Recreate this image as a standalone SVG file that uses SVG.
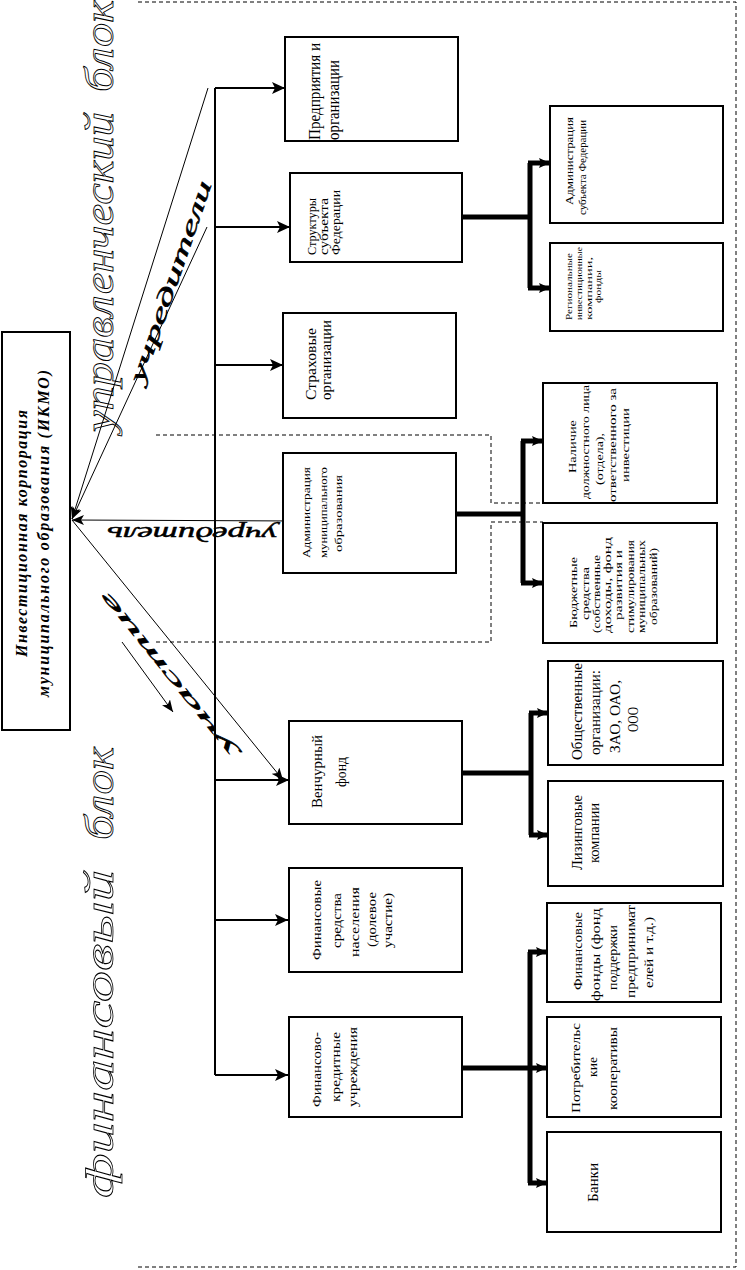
<svg xmlns="http://www.w3.org/2000/svg" width="745" height="1270" viewBox="0 0 745 1270">
<defs>
<style>
.bx{fill:#fff;stroke:#000;stroke-width:2}
.t{font-family:"Liberation Serif","Times New Roman",serif;fill:#000}
.ik{font-family:"Liberation Serif","Times New Roman",serif;font-weight:bold;font-style:italic;font-size:16px;fill:#000}
.big{font-family:"Liberation Serif","Times New Roman",serif;font-style:italic;font-size:40px;fill:#fff;stroke:#000;stroke-width:0.8}
.scr{font-family:"Liberation Serif","Times New Roman",serif;font-style:italic;fill:#000;stroke:#000;stroke-width:0.5}
.bus{fill:none;stroke:#000;stroke-width:2}
.thk{fill:none;stroke:#000;stroke-width:5}
.thin{fill:none;stroke:#000;stroke-width:1}
.dash{fill:none;stroke:#000;stroke-width:1;stroke-dasharray:4,3}
</style>
<marker id="a1" markerWidth="13" markerHeight="12" refX="13" refY="6" orient="auto" markerUnits="userSpaceOnUse"><path d="M0,0 L13,6 L0,12 L3,6 z" fill="#000"/></marker>
<marker id="a2" markerWidth="11" markerHeight="10" refX="11" refY="5" orient="auto" markerUnits="userSpaceOnUse"><path d="M0,0 L11,5 L0,10 L2,5 z" fill="#000"/></marker>
<marker id="a3" markerWidth="12" markerHeight="10" refX="12" refY="5" orient="auto" markerUnits="userSpaceOnUse"><path d="M0,0 L12,5 L0,10 L3,5 z" fill="#000"/></marker>
</defs>
<rect width="745" height="1270" fill="#fff"/>

<g id="frame">
<path class="dash" d="M138,2 H736 V1267 H138"/>
<path class="dash" d="M156,435 H491 V503 H543"/>
<path class="dash" d="M156,642 H491 V522 H543"/>
</g>

<g id="labels">
<text class="big" transform="translate(113,1198) rotate(-90)" textLength="328" lengthAdjust="spacingAndGlyphs">финансовый</text>
<text class="big" transform="translate(113,840) rotate(-90)" textLength="93" lengthAdjust="spacingAndGlyphs">блок</text>
<text class="big" transform="translate(113,432) rotate(-90)" textLength="320" lengthAdjust="spacingAndGlyphs">управленческий</text>
<text class="big" transform="translate(113,92) rotate(-90)" textLength="92" lengthAdjust="spacingAndGlyphs">блок</text>
<text class="scr" font-size="22" transform="translate(143,384) rotate(-71)" textLength="212" lengthAdjust="spacingAndGlyphs">учредители</text>
<text class="scr" font-size="22" transform="translate(277,527) rotate(180)" textLength="170" lengthAdjust="spacingAndGlyphs">учредитель</text>
<text class="scr" font-size="17" transform="translate(236,750) rotate(-129)" textLength="205" lengthAdjust="spacingAndGlyphs">участие</text>
</g>

<g id="connectors">
<path class="bus" d="M215,88 V1075"/>
<path class="bus" d="M215,88 H285" marker-end="url(#a1)"/>
<path class="bus" d="M215,227 H290" marker-end="url(#a1)"/>
<path class="bus" d="M215,365 H283" marker-end="url(#a1)"/>
<path class="bus" d="M215,780 H289" marker-end="url(#a1)"/>
<path class="bus" d="M215,920 H288" marker-end="url(#a1)"/>
<path class="bus" d="M215,1075 H288" marker-end="url(#a1)"/>

<path class="thk" d="M462,217 H530 M530,163 V288"/>
<path class="thk" d="M528,163 H550" marker-end="url(#a2)"/>
<path class="thk" d="M528,288 H550" marker-end="url(#a2)"/>

<path class="thk" d="M456,514 H523 M523,441 V583"/>
<path class="thk" d="M521,441 H543" marker-end="url(#a2)"/>
<path class="thk" d="M521,583 H543" marker-end="url(#a2)"/>

<path class="thk" d="M462,773 H531 M531,713 V835"/>
<path class="thk" d="M529,713 H548" marker-end="url(#a2)"/>
<path class="thk" d="M529,835 H548" marker-end="url(#a2)"/>

<path class="thk" d="M462,1068 H530 M530,952 V1183"/>
<path class="thk" d="M528,952 H547" marker-end="url(#a2)"/>
<path class="thk" d="M528,1068 H547" marker-end="url(#a2)"/>
<path class="thk" d="M528,1183 H547" marker-end="url(#a2)"/>

<path class="thin" d="M208,88 L72,519" marker-end="url(#a3)"/>
<path class="thin" d="M207,227 L72,519" marker-end="url(#a3)"/>
<path class="thin" d="M297,521 L72,520" marker-end="url(#a3)"/>
<path class="thin" d="M72,520 L283,780" marker-end="url(#a3)"/>
<path class="thin" d="M122,642 L173,712" marker-end="url(#a3)"/>
</g>

<g id="ikmo">
<rect class="bx" x="2" y="332" width="68" height="398"/>
<text class="ik" transform="translate(27,657) rotate(-90)" textLength="247" lengthAdjust="spacing">Инвестиционная корпорация</text>
<text class="ik" transform="translate(49,697) rotate(-90)" textLength="327" lengthAdjust="spacing">муниципального образования (ИКМО)</text>
</g>

<g id="n-predpriyatiya">
<rect class="bx" x="285" y="37" width="173" height="104"/>
<text class="t" font-size="17" transform="translate(320,140) rotate(-90)" textLength="97" lengthAdjust="spacingAndGlyphs">Предприятия и</text>
<text class="t" font-size="17" transform="translate(339,140) rotate(-90)" textLength="80" lengthAdjust="spacingAndGlyphs">организации</text>
</g>

<g id="n-struktury">
<rect class="bx" x="290" y="173" width="172" height="89"/>
<text class="t" font-size="12" transform="translate(316,255) rotate(-90)" textLength="57" lengthAdjust="spacingAndGlyphs">Структуры</text>
<text class="t" font-size="12" transform="translate(328,255) rotate(-90)" textLength="57" lengthAdjust="spacingAndGlyphs">субъекта</text>
<text class="t" font-size="12" transform="translate(340,255) rotate(-90)" textLength="65" lengthAdjust="spacingAndGlyphs">Федерации</text>
</g>

<g id="n-strahovye">
<rect class="bx" x="283" y="313" width="173" height="105"/>
<text class="t" font-size="14" transform="translate(316,400) rotate(-90)" textLength="72" lengthAdjust="spacingAndGlyphs">Страховые</text>
<text class="t" font-size="14" transform="translate(331,400) rotate(-90)" textLength="80" lengthAdjust="spacingAndGlyphs">организации</text>
</g>

<g id="n-admin-mo">
<rect class="bx" x="283" y="453" width="173" height="120"/>
<text class="t" font-size="11" transform="translate(310,558) rotate(-90)" textLength="91" lengthAdjust="spacingAndGlyphs">Администрация</text>
<text class="t" font-size="11" transform="translate(327,558) rotate(-90)" textLength="91" lengthAdjust="spacingAndGlyphs">муниципального</text>
<text class="t" font-size="11" transform="translate(342,552) rotate(-90)" textLength="77" lengthAdjust="spacingAndGlyphs">образования</text>
</g>

<g id="n-venture">
<rect class="bx" x="289" y="721" width="173" height="103"/>
<text class="t" font-size="15" transform="translate(322,808) rotate(-90)" textLength="73" lengthAdjust="spacingAndGlyphs">Венчурный</text>
<text class="t" font-size="15" transform="translate(346,787) rotate(-90)" textLength="30" lengthAdjust="spacingAndGlyphs">фонд</text>
</g>

<g id="n-naselenie">
<rect class="bx" x="289" y="868" width="173" height="104"/>
<text class="t" font-size="13" transform="translate(321,960) rotate(-90)" textLength="80" lengthAdjust="spacingAndGlyphs">Финансовые</text>
<text class="t" font-size="13" transform="translate(341,948) rotate(-90)" textLength="55" lengthAdjust="spacingAndGlyphs">средства</text>
<text class="t" font-size="13" transform="translate(359,957) rotate(-90)" textLength="70" lengthAdjust="spacingAndGlyphs">населения</text>
<text class="t" font-size="13" transform="translate(376,947) rotate(-90)" textLength="55" lengthAdjust="spacingAndGlyphs">(долевое</text>
<text class="t" font-size="13" transform="translate(392,948) rotate(-90)" textLength="55" lengthAdjust="spacingAndGlyphs">участие)</text>
</g>

<g id="n-fin-kred">
<rect class="bx" x="289" y="1017" width="173" height="100"/>
<text class="t" font-size="13" transform="translate(321,1107) rotate(-90)" textLength="75" lengthAdjust="spacingAndGlyphs">Финансово-</text>
<text class="t" font-size="13" transform="translate(340,1102) rotate(-90)" textLength="70" lengthAdjust="spacingAndGlyphs">кредитные</text>
<text class="t" font-size="13" transform="translate(357,1107) rotate(-90)" textLength="80" lengthAdjust="spacingAndGlyphs">учреждения</text>
</g>

<g id="n-admin-sf">
<rect class="bx" x="550" y="106" width="173" height="117"/>
<text class="t" font-size="9.5" transform="translate(573,205) rotate(-90)" textLength="88" lengthAdjust="spacingAndGlyphs">Администрация</text>
<text class="t" font-size="9.5" transform="translate(586,215) rotate(-90)" textLength="95" lengthAdjust="spacingAndGlyphs">субъекта Федерации</text>
</g>

<g id="n-region">
<rect class="bx" x="550" y="243" width="173" height="88"/>
<text class="t" font-size="9" transform="translate(572,320) rotate(-90)" textLength="67" lengthAdjust="spacingAndGlyphs">Региональные</text>
<text class="t" font-size="9" transform="translate(582,320) rotate(-90)" textLength="73" lengthAdjust="spacingAndGlyphs">инвестиционные</text>
<text class="t" font-size="9" transform="translate(592,320) rotate(-90)" textLength="63" lengthAdjust="spacingAndGlyphs">компании,</text>
<text class="t" font-size="9" transform="translate(601,303) rotate(-90)" textLength="33" lengthAdjust="spacingAndGlyphs">фонды</text>
</g>

<g id="n-nalichie">
<rect class="bx" x="543" y="383" width="174" height="120"/>
<text class="t" font-size="11" transform="translate(576,473) rotate(-90)" textLength="53" lengthAdjust="spacingAndGlyphs">Наличие</text>
<text class="t" font-size="11" transform="translate(589,499) rotate(-90)" textLength="114" lengthAdjust="spacingAndGlyphs">должностного лица</text>
<text class="t" font-size="11" transform="translate(603,485) rotate(-90)" textLength="52" lengthAdjust="spacingAndGlyphs">(отдела),</text>
<text class="t" font-size="11" transform="translate(616,502) rotate(-90)" textLength="114" lengthAdjust="spacingAndGlyphs">ответственного за</text>
<text class="t" font-size="11" transform="translate(629,482) rotate(-90)" textLength="74" lengthAdjust="spacingAndGlyphs">инвестиции</text>
</g>

<g id="n-budget">
<rect class="bx" x="543" y="523" width="174" height="120"/>
<text class="t" font-size="10.5" transform="translate(577,628) rotate(-90)" textLength="71" lengthAdjust="spacingAndGlyphs">Бюджетные</text>
<text class="t" font-size="10.5" transform="translate(589,620) rotate(-90)" textLength="53" lengthAdjust="spacingAndGlyphs">средства</text>
<text class="t" font-size="10.5" transform="translate(600,633) rotate(-90)" textLength="78" lengthAdjust="spacingAndGlyphs">(собственные</text>
<text class="t" font-size="10.5" transform="translate(611,633) rotate(-90)" textLength="96" lengthAdjust="spacingAndGlyphs">доходы, фонд</text>
<text class="t" font-size="10.5" transform="translate(622,620) rotate(-90)" textLength="70" lengthAdjust="spacingAndGlyphs">развития и</text>
<text class="t" font-size="10.5" transform="translate(634,633) rotate(-90)" textLength="93" lengthAdjust="spacingAndGlyphs">стимулирования</text>
<text class="t" font-size="10.5" transform="translate(645,633) rotate(-90)" textLength="93" lengthAdjust="spacingAndGlyphs">муниципальных</text>
<text class="t" font-size="10.5" transform="translate(657,625) rotate(-90)" textLength="77" lengthAdjust="spacingAndGlyphs">образований)</text>
</g>

<g id="n-obshch">
<rect class="bx" x="548" y="661" width="175" height="104"/>
<text class="t" font-size="15" transform="translate(582,760) rotate(-90)" textLength="97" lengthAdjust="spacingAndGlyphs">Общественные</text>
<text class="t" font-size="15" transform="translate(600,755) rotate(-90)" textLength="85" lengthAdjust="spacingAndGlyphs">организации:</text>
<text class="t" font-size="15" transform="translate(620,753) rotate(-90)" textLength="73" lengthAdjust="spacingAndGlyphs">ЗАО, ОАО,</text>
<text class="t" font-size="15" transform="translate(638,732) rotate(-90)" textLength="25" lengthAdjust="spacingAndGlyphs">ООО</text>
</g>

<g id="n-lizing">
<rect class="bx" x="548" y="781" width="175" height="105"/>
<text class="t" font-size="14" transform="translate(582,870) rotate(-90)" textLength="75" lengthAdjust="spacingAndGlyphs">Лизинговые</text>
<text class="t" font-size="14" transform="translate(599,863) rotate(-90)" textLength="60" lengthAdjust="spacingAndGlyphs">компании</text>
</g>

<g id="n-fin-fondy">
<rect class="bx" x="547" y="903" width="174" height="99"/>
<text class="t" font-size="13" transform="translate(582,990) rotate(-90)" textLength="78" lengthAdjust="spacingAndGlyphs">Финансовые</text>
<text class="t" font-size="13" transform="translate(600,1001) rotate(-90)" textLength="93" lengthAdjust="spacingAndGlyphs">фонды (фонд</text>
<text class="t" font-size="13" transform="translate(617,990) rotate(-90)" textLength="65" lengthAdjust="spacingAndGlyphs">поддержки</text>
<text class="t" font-size="13" transform="translate(635,998) rotate(-90)" textLength="93" lengthAdjust="spacingAndGlyphs">предпринимат</text>
<text class="t" font-size="13" transform="translate(653,988) rotate(-90)" textLength="71" lengthAdjust="spacingAndGlyphs">елей и т.д.)</text>
</g>

<g id="n-potreb">
<rect class="bx" x="547" y="1017" width="174" height="100"/>
<text class="t" font-size="13" transform="translate(580,1113) rotate(-90)" textLength="90" lengthAdjust="spacingAndGlyphs">Потребительс</text>
<text class="t" font-size="13" transform="translate(597,1077) rotate(-90)" textLength="20" lengthAdjust="spacingAndGlyphs">кие</text>
<text class="t" font-size="13" transform="translate(617,1110) rotate(-90)" textLength="83" lengthAdjust="spacingAndGlyphs">кооперативы</text>
</g>

<g id="n-banki">
<rect class="bx" x="547" y="1132" width="174" height="100"/>
<text class="t" font-size="14" transform="translate(598,1202) rotate(-90)" textLength="39" lengthAdjust="spacingAndGlyphs">Банки</text>
</g>
</svg>
